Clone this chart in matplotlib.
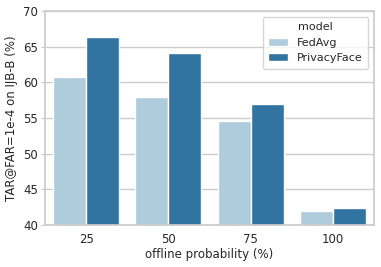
import pandas as pd
import seaborn as sns
import matplotlib
matplotlib.use('Agg')
import matplotlib.pyplot as plt

probs = ['25', '50', '75', '100']
fedavg = [60.7, 57.9, 54.6, 42.0]
privacyface = [66.3, 64.1, 57.0, 42.4]

df = pd.DataFrame({
    'offline probability (%)': probs * 2,
    'value': fedavg + privacyface,
    'model': ['FedAvg'] * 4 + ['PrivacyFace'] * 4,
})

sns.set_theme(style='whitegrid')
plt.rcParams['font.family'] = ['DejaVu Sans']

fig, ax = plt.subplots(figsize=(3.81, 2.67), dpi=100)
sns.barplot(data=df, x='offline probability (%)', y='value', hue='model',
            palette='Paired', ax=ax)
ax.set_ylim(40, 70)
ax.set_ylabel('TAR@FAR=1e-4 on IJB-B (%)', fontsize=8.5, labelpad=4)
ax.set_xlabel('offline probability (%)', fontsize=8.5, labelpad=1)
ax.tick_params(axis='y', left=True, labelsize=8.5, length=3, width=0.8, color='#cccccc', pad=2)
ax.tick_params(axis='x', labelsize=8.5, length=0, pad=6)
leg = ax.legend(title='model', fontsize=8, title_fontsize=8, loc='upper right',
                handlelength=1.8, borderpad=0.5, labelspacing=0.5)
fig.subplots_adjust(left=45 / 381, right=374 / 381, top=1 - 11 / 267, bottom=1 - 225 / 267)
fig.savefig('out.png', dpi=100)
